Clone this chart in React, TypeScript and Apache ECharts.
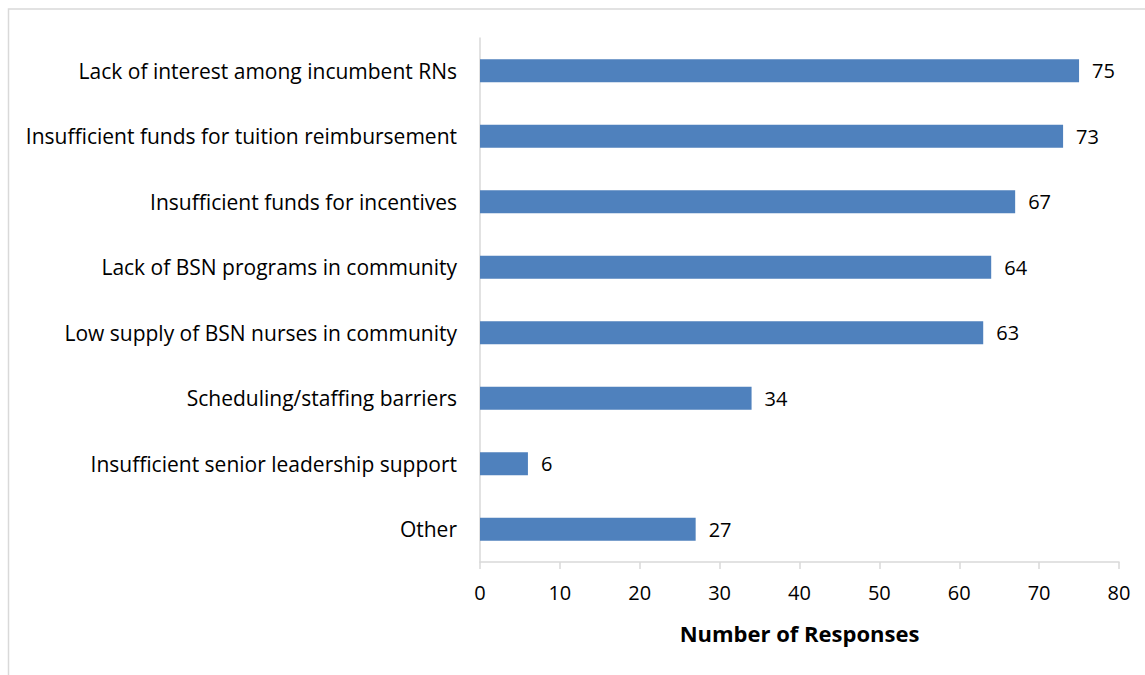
import React, { useEffect, useRef } from "react";
import * as echarts from "echarts";

const categories = [
  "Lack of interest among incumbent RNs",
  "Insufficient funds for tuition reimbursement",
  "Insufficient funds for incentives",
  "Lack of BSN programs in community",
  "Low supply of BSN nurses in community",
  "Scheduling/staffing barriers",
  "Insufficient senior leadership support",
  "Other",
];
const values = [75, 73, 67, 64, 63, 34, 6, 27];
const xAxisTitle = "Number of Responses";

export default function App() {
  const ref = useRef<HTMLDivElement>(null);
  useEffect(() => {
    if (!ref.current) return;
    const chart = echarts.init(ref.current, null, { renderer: "svg" });
    const font = "'Open Sans', 'Noto Sans', sans-serif";
    chart.setOption({
      animation: false,
      textStyle: { fontFamily: font },
      graphic: [
        {
          type: "rect",
          shape: { x: 8.5, y: 9, width: 1200, height: 700 },
          style: { fill: "none", stroke: "#d9d9d9", lineWidth: 1.5 },
          silent: true,
        },
      ],
      grid: { left: 480, right: 26, top: 38, bottom: 113 },
      xAxis: {
        type: "value",
        min: 0,
        max: 80,
        interval: 10,
        splitLine: { show: false },
        axisLine: { show: true, lineStyle: { color: "#d9d9d9", width: 1.5 } },
        axisTick: { show: true, length: 7, lineStyle: { color: "#d9d9d9", width: 1.5 } },
        axisLabel: { color: "#000", fontSize: 20, margin: 20, fontFamily: font },
        name: xAxisTitle,
        nameLocation: "middle",
        nameGap: 60,
        nameTextStyle: { color: "#000", fontSize: 22, fontWeight: "bold", fontFamily: font },
      },
      yAxis: {
        type: "category",
        data: categories,
        inverse: true,
        axisLine: { show: true, lineStyle: { color: "#d9d9d9", width: 1.5 } },
        axisTick: { show: false },
        axisLabel: { color: "#000", fontSize: 21, margin: 23, fontFamily: font },
      },
      series: [
        {
          type: "bar",
          data: values,
          barWidth: 23,
          itemStyle: { color: "#4f81bd" },
          label: {
            show: true,
            position: "right",
            distance: 13,
            color: "#000",
            fontSize: 20,
            fontFamily: font,
          },
        },
      ],
    });
    return () => chart.dispose();
  }, []);
  return (
    <div
      ref={ref}
      style={{ position: "absolute", left: 0, top: 0, width: 1145, height: 675, background: "#fff" }}
    />
  );
}
